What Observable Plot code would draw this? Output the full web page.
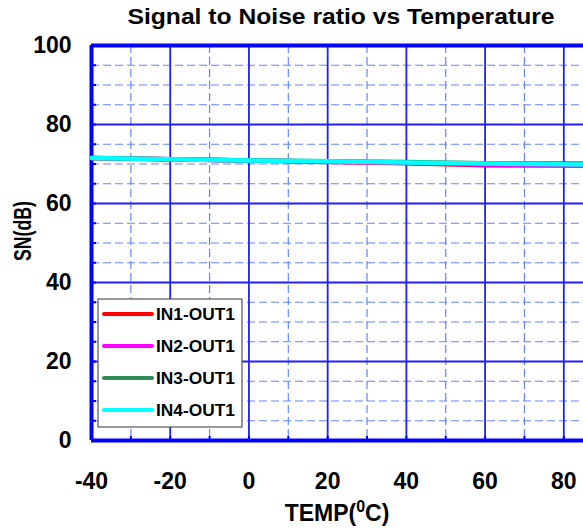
<!DOCTYPE html>
<html>
<head>
<meta charset="utf-8">
<script src="https://cdn.jsdelivr.net/npm/d3@7"></script>
<script src="https://cdn.jsdelivr.net/npm/@observablehq/plot@0.6"></script>
<style>
  html, body { margin: 0; padding: 0; background: #fff; }
  svg { display: block; font-family: "Liberation Sans", Arial, sans-serif; }
</style>
</head>
<body>
<div id="chart"></div>
<script>
const temps = [-40, -20, 0, 20, 40, 60, 85];
const series = ["IN1-OUT1", "IN2-OUT1", "IN3-OUT1", "IN4-OUT1"];
const colors = ["#ff0000", "#ff00ff", "#2e8b57", "#00ffff"];
const in1 = [71.5, 71.2, 70.9, 70.6, 70.2, 69.7, 69.6];
const in2 = [71.5, 71.2, 70.9, 70.6, 70.3, 69.8, 69.7];
const in3 = [71.5, 71.2, 70.9, 70.7, 70.5, 70.2, 70.1];
const in4 = [71.5, 71.2, 70.9, 70.7, 70.4, 70.1, 69.9];
const xTicks = [-40, -20, 0, 20, 40, 60, 80];
const yTicks = [0, 20, 40, 60, 80, 100];
const xMinor = [-30, -10, 10, 30, 50, 70];
const yMinor = [5, 10, 15, 25, 30, 35, 45, 50, 55, 65, 70, 75, 85, 90, 95];
const xMajorGrid = [-20, 0, 20, 40, 60, 80];
const yMajorGrid = [20, 40, 60, 80];
const title = "Signal to Noise ratio vs Temperature";
const yLabel = "SN(dB)";

const values = [in1, in2, in3, in4];
const data = [];
series.forEach((s, i) => temps.forEach((t, j) => data.push({series: s, temp: t, sn: values[i][j]})));

const major = "#1f1fff";
const minor = "#6684ff";
const axisBlue = "#0000ff";
const fmt = d => String(d);

const plot = Plot.plot({
  width: 583,
  height: 532,
  marginLeft: 91,
  marginRight: 0,
  marginTop: 45,
  marginBottom: 92,
  style: {fontFamily: "Liberation Sans, Arial, sans-serif", background: "white"},
  x: {domain: [-40, 85]},
  y: {domain: [0, 100]},
  color: {domain: series, range: colors},
  marks: [
    Plot.ruleX(xMinor, {stroke: minor, strokeWidth: 1.2, strokeDasharray: "8,4"}),
    Plot.ruleY(yMinor, {stroke: minor, strokeWidth: 1.2, strokeDasharray: "8,4"}),
    Plot.ruleX(xMajorGrid, {stroke: major, strokeWidth: 1.8}),
    Plot.ruleY(yMajorGrid, {stroke: major, strokeWidth: 1.8}),
    Plot.axisX({ticks: xMinor.concat(xTicks), tickSize: -4, text: null, label: null, stroke: axisBlue, strokeWidth: 2}),
    Plot.axisY({ticks: yMinor.concat(yTicks), tickSize: -5, text: null, label: null, stroke: axisBlue, strokeWidth: 2}),
    Plot.axisX({ticks: xTicks, tickFormat: fmt, tickSize: 0, tickPadding: 32, fontSize: 23, fontWeight: "bold", fill: "black", label: null}),
    Plot.axisY({ticks: yTicks, tickFormat: fmt, tickSize: 0, tickPadding: 20, fontSize: 23, fontWeight: "bold", fill: "black", label: null}),
    Plot.ruleX([-40], {stroke: axisBlue, strokeWidth: 4}),
    Plot.ruleY([0], {stroke: axisBlue, strokeWidth: 4}),
    Plot.ruleY([100], {stroke: axisBlue, strokeWidth: 4}),
    Plot.line(data, {x: "temp", y: "sn", z: "series", stroke: "series", strokeWidth: 4.5, curve: "linear"})
  ]
});

document.getElementById("chart").appendChild(plot);
const svg = d3.select(plot);

// title
svg.append("text").attr("x", 341).attr("y", 24).attr("text-anchor", "middle")
  .attr("font-size", 22).attr("font-weight", "bold").attr("fill", "black")
  .attr("textLength", 427).attr("lengthAdjust", "spacingAndGlyphs").text(title);

// x label with superscript: TEMP(°C)
const xl = svg.append("text").attr("x", 337).attr("y", 521).attr("text-anchor", "middle")
  .attr("font-size", 23).attr("font-weight", "bold").attr("fill", "black");
xl.append("tspan").text("TEMP(");
xl.append("tspan").attr("dy", -9).attr("font-size", 16).text("0");
xl.append("tspan").attr("dy", 9).text("C)");

// y label
svg.append("text").attr("transform", "translate(31,231) rotate(-90)").attr("text-anchor", "middle")
  .attr("font-size", 24).attr("font-weight", "bold").attr("fill", "black")
  .attr("textLength", 60).attr("lengthAdjust", "spacingAndGlyphs").text(yLabel);

// legend
const lg = svg.append("g").attr("transform", "translate(98,299)");
lg.append("rect").attr("width", 144).attr("height", 128).attr("fill", "white").attr("stroke", "#555").attr("stroke-width", 1.2);
series.forEach((s, i) => {
  const y = 15 + i * 32;
  lg.append("line").attr("x1", 6).attr("x2", 54).attr("y1", y).attr("y2", y)
    .attr("stroke", colors[i]).attr("stroke-width", 4).attr("stroke-linecap", "round");
  lg.append("text").attr("x", 58).attr("y", y).attr("dy", "0.36em").attr("text-anchor", "start")
    .attr("font-size", 17).attr("font-weight", "bold").attr("fill", "black")
    .attr("textLength", 79).attr("lengthAdjust", "spacingAndGlyphs").text(s);
});
</script>
</body>
</html>
